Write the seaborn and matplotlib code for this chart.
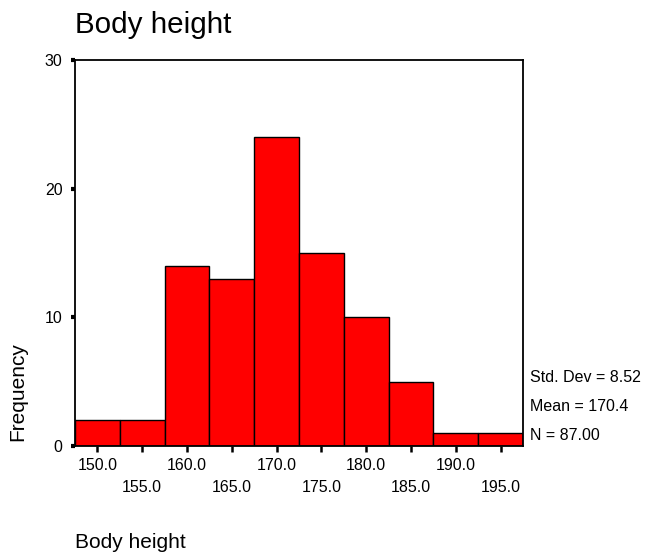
import matplotlib
matplotlib.use("Agg")
import matplotlib.pyplot as plt
import seaborn as sns
import pandas as pd

# Frequency table of body height (cm), bins of width 5
bin_centers = [150, 155, 160, 165, 170, 175, 180, 185, 190, 195]
counts = [2, 2, 14, 13, 24, 15, 10, 5, 1, 1]
bin_width = 5
stats_lines = ["Std. Dev = 8.52", "Mean = 170.4", "N = 87.00"]
y_ticks = [0, 10, 20, 30]

sns.set_theme(style="white")
plt.rcParams["font.family"] = ["Liberation Sans", "DejaVu Sans"]
plt.rcParams["text.color"] = "black"
plt.rcParams["xtick.color"] = "black"
plt.rcParams["ytick.color"] = "black"
plt.rcParams["axes.labelcolor"] = "black"

df = pd.DataFrame({"height": bin_centers, "count": counts})
edges = [c - bin_width / 2 for c in bin_centers] + [bin_centers[-1] + bin_width / 2]

W, H = 645, 555
fig = plt.figure(figsize=(W / 100, H / 100), dpi=100)
ax = fig.add_axes([75 / W, 1 - 446 / H, 448 / W, 386 / H])

sns.histplot(data=df, x="height", weights="count", bins=edges, ax=ax,
             color="#ff0000", edgecolor="black", linewidth=1.0, alpha=1.0)

ax.set_xlim(edges[0], edges[-1])
ax.set_ylim(0, 30)

# x ticks at bin centres, labels staggered on two rows
xlabels = [f"{c:.1f}" if i % 2 == 0 else f"\n{c:.1f}" for i, c in enumerate(bin_centers)]
ax.set_xticks(bin_centers)
ax.set_xticklabels(xlabels, fontsize=11.5, linespacing=1.55)
ax.set_yticks(y_ticks)
ax.set_yticklabels([str(t) for t in y_ticks], fontsize=11.5)
ax.tick_params(axis="x", direction="out", length=4, width=1.8, colors="black", pad=5, bottom=True)
ax.tick_params(axis="y", direction="out", length=3, width=3, colors="black", pad=6, left=True)

for sp in ax.spines.values():
    sp.set_visible(True)
    sp.set_color("black")
    sp.set_linewidth(1.3)

ax.set_xlabel("")
ax.set_ylabel("")

fig.text(75 / W, 1 - 33 / H, "Body height", fontsize=21.3, ha="left", va="baseline")
fig.text(75 / W, 1 - 548 / H, "Body height", fontsize=15, ha="left", va="baseline")
fig.text(18 / W, 1 - 392 / H, "Frequency", fontsize=15, rotation=90, ha="center", va="center")

stat_baselines = [382, 411, 440]
for line, yb in zip(stats_lines, stat_baselines):
    fig.text(530 / W, 1 - yb / H, line, fontsize=11.5, ha="left", va="baseline")

fig.savefig("out.png", dpi=100, facecolor="white")
